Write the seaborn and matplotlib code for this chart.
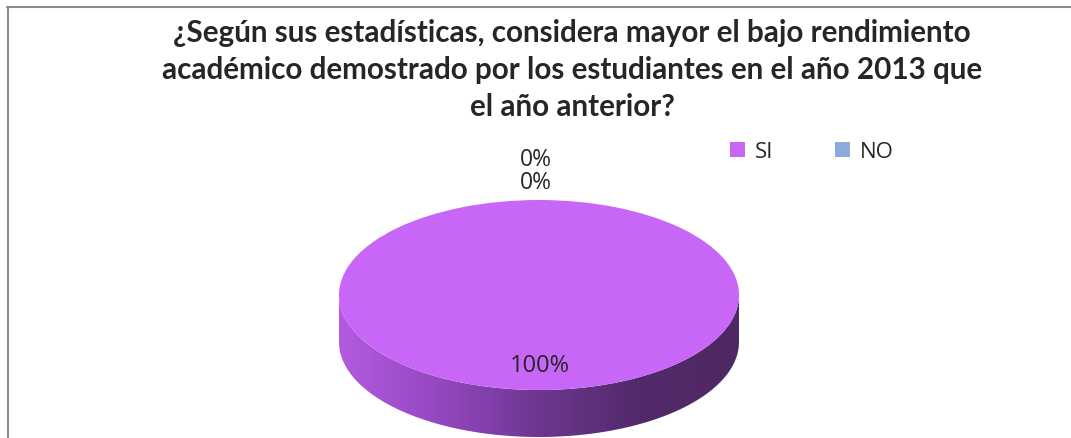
import numpy as np
import matplotlib
matplotlib.use("Agg")
import matplotlib.pyplot as plt
import seaborn as sns
from matplotlib.patches import Polygon
from matplotlib.lines import Line2D
from matplotlib.colors import LinearSegmentedColormap

categories = ["SI", "NO"]
values = [100, 0]
labels_pct = ["100%", "0%"]
title = "¿Según sus estadísticas, considera mayor el bajo rendimiento\nacadémico demostrado por los estudiantes en el año 2013 que\nel año anterior?"

sns.set_theme(style="white")
plt.rcParams['font.family'] = ['Lato', 'DejaVu Sans']

colors = ["#C866F8", "#8EAADB"]

W, H = 1071, 438
fig = plt.figure(figsize=(W / 100, H / 100), dpi=100)

# pie axes (ellipse)
x0, x1 = 339, 739
ytop, ybot_face, ybot_side = 200, 390, 437
ry = (ybot_face - ytop) / 2
d = (ybot_side - ybot_face) / ry
ax = fig.add_axes([x0 / W, (H - ybot_side) / H, (x1 - x0) / W, (ybot_side - ytop) / H])
ax.set_xlim(-1, 1)
ax.set_ylim(-1 - d, 1)
ax.set_aspect('auto')
ax.axis('off')

# side of cylinder
t = np.linspace(np.pi, 2 * np.pi, 200)
top_pts = np.column_stack([np.cos(t), np.sin(t)])
bot_pts = np.column_stack([np.cos(t[::-1]), np.sin(t[::-1]) - d])
side = Polygon(np.vstack([top_pts, bot_pts]), closed=True, facecolor='none', edgecolor='none')
ax.add_patch(side)
cmap = LinearSegmentedColormap.from_list("side", ["#B25BE0", "#9448C0", "#6E3690", "#522A6A", "#4E2862"])
grad = np.linspace(0, 1, 256).reshape(1, -1)
im = ax.imshow(grad, extent=[-1, 1, -1 - d, 0], cmap=cmap, aspect='auto', zorder=1)
im.set_clip_path(side)

wedges, _ = ax.pie(values, colors=colors, startangle=90, counterclock=False,
                   radius=1, wedgeprops=dict(linewidth=0), normalize=True)
for w in wedges:
    w.set_zorder(2)
ax.set_xlim(-1, 1)
ax.set_ylim(-1 - d, 1)
ax.set_aspect('auto')

# data labels
lab_family = ['Open Sans', 'DejaVu Sans']
fig.text(540 / W, 1 - 366 / H, labels_pct[0], ha='center', va='center', fontsize=17,
         family=lab_family)
fig.text(536 / W, 1 - 160 / H, labels_pct[1], ha='center', va='center', fontsize=16.5,
         family=lab_family)
fig.text(536 / W, 1 - 183 / H, labels_pct[1], ha='center', va='center', fontsize=16.5,
         family=lab_family)

# title
fig.text(572 / W, 1 - 70 / H, title, ha='center', va='center', fontsize=21.3,
         fontweight='bold', linespacing=1.4)

# legend
leg = fig.legend(wedges, categories, loc='center left', bbox_to_anchor=(710 / W, 1 - 152 / H),
                 ncol=2, frameon=False, handlelength=0.68, handleheight=0.68,
                 columnspacing=2.75, handletextpad=0.45,
                 prop=dict(family=lab_family, size=16))

# border lines
fig.add_artist(Line2D([7 / W, 1], [1 - 6.5 / H, 1 - 6.5 / H], color='#8C8C8C', lw=1.5))
fig.add_artist(Line2D([7.5 / W, 7.5 / W], [0, 1 - 6.5 / H], color='#8C8C8C', lw=1.5))

fig.savefig("out.png", dpi=100)
